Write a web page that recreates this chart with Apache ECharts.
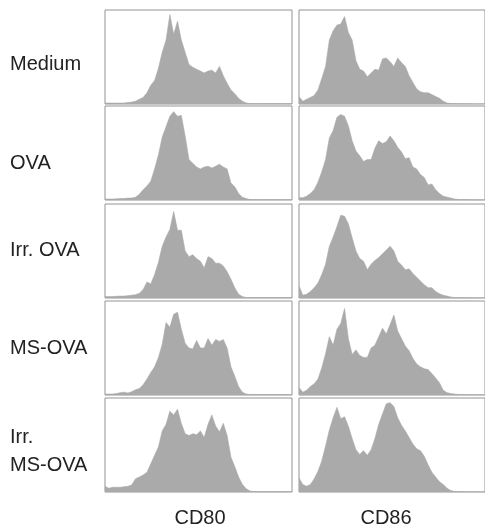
<!DOCTYPE html>
<html>
<head>
<meta charset="utf-8">
<script src="https://cdn.jsdelivr.net/npm/echarts@6/dist/echarts.min.js"></script>
<style>html,body{margin:0;padding:0;background:#fff;}#c{width:485px;height:528px;}</style>
</head>
<body>
<div id="c"></div>
<script>
var rowLabels = [["Medium"], ["OVA"], ["Irr. OVA"], ["MS-OVA"], ["Irr.", "MS-OVA"]];
var colLabels = ["CD80", "CD86"];

var mediumCD80 = [1,1,1,1,1,1,1.5,2,3,5,7,12,20,25,38,55,68,95,74,88,68,55,42,39,37,35,33,35,36,33,40,30,22,15,11,6,3,1,0.5,0.5,0.5,0.5,0.5,0.5,0.5,0.5,0.5,0.5,0.5,0.5];
var mediumCD86 = [8,3,5,7,9,15,27,40,68,78,84,85,93,76,68,46,37,35,29,33,37,36,48,49,45,40,49,44,40,30,23,16,13,12,12,10,8,6,3,1,0.5,0.5,0.3,0.3,0.2,0.2,0.1,0.1,0.1,0.1];
var ovaCD80 = [1,1,1,1.2,1.5,1.5,2,2,3,6,11,15,20,33,48,67,78,89,94,89,90,68,43,39,35,33,35,36,34,36,38,35,33,18,14,7,3,1.5,0.5,0.5,0.5,0.5,0.5,0.5,0.5,0.5,0.5,0.5,0.5,0.5];
var ovaCD86 = [2.5,2.5,4,7,11,19,30,43,66,74,88,91,89,79,63,52,47,41,43,43,55,63,60,62,68,63,56,51,44,45,35,33,27,24,16,17,11,7,4,3,2,1,0.5,0.5,0.4,0.3,0.3,0.2,0.2,0.2];
var irrOvaCD80 = [1.5,1.5,1.5,1.8,2,2,2.5,3,3.5,5,9,17,15,25,38,55,65,73,92,72,72,50,44,46,42,39,32,44,42,37,37,34,28,20,11,4,1.5,0.5,0.5,0.5,0.5,0.5,0.5,0.5,0.5,0.5,0.5,0.5,0.5,0.5];
var irrOvaCD86 = [13,3,4,7,11,16,25,36,55,65,76,88,87,79,64,50,42,39,30,36,40,43,47,51,55,50,39,35,30,31,26,22,18,14,11,11,7,4.5,3,2,1,0.5,0.5,0.4,0.3,0.3,0.2,0.2,0.2,0.2];
var msOvaCD80 = [1,1,1,1.5,2.5,3,2,3.5,5.5,7,11,17,24,30,40,54,77,72,86,88,70,55,50,49,58,50,50,60,53,59,57,59,50,30,20,9,3,1,0.5,0.5,0.5,0.5,0.5,0.5,0.5,0.5,0.5,0.5,0.5,0.5];
var msOvaCD86 = [8,3,5,9,12,17,29,44,62,53,70,76,92,60,43,48,42,40,40,50,53,62,71,65,75,85,68,60,52,47,39,33,30,28,27,23,18,13,5,2.5,1.5,1,0.5,0.5,0.4,0.3,0.3,0.2,0.2,0.2];
var irrMsOvaCD80 = [6,4,5,5,5,5.5,6,7.5,14,16,18,21,30,39,48,65,72,86,82,88,73,62,60,62,61,65,58,72,82,70,64,73,60,37,27,16,8,3.5,1,0.5,0.5,0.5,0.5,0.5,0.5,0.5,0.5,0.5,0.5,0.5];
var irrMsOvaCD86 = [15,8,6,8,14,22,33,49,66,79,90,78,80,70,57,45,40,44,39,45,57,72,83,94,95,91,79,71,65,58,51,46,44,38,29,21,16,11,8,4,1.5,0.5,0.5,0.4,0.3,0.3,0.2,0.2,0.2,0.2];

var panels = [
  [mediumCD80, mediumCD86],
  [ovaCD80, ovaCD86],
  [irrOvaCD80, irrOvaCD86],
  [msOvaCD80, msOvaCD86],
  [irrMsOvaCD80, irrMsOvaCD86]
];

var rowTops = [10, 106, 204, 301, 398];
var rowH = 94;
var colLefts = [105, 299];
var colW = [187, 190];
var labelY = [[64], [163], [250], [348], [437, 465]];

var grids = [], xAxes = [], yAxes = [], series = [], graphics = [];
var cats = panels[0][0].map(function (_, i) { return i; });
var idx = 0;
var FONT = '20px "Liberation Sans", Arial, sans-serif';
for (var r = 0; r < 5; r++) {
  for (var c = 0; c < 2; c++) {
    grids.push({left: colLefts[c], top: rowTops[r], width: colW[c], height: rowH,
      show: true, borderColor: '#939393', borderWidth: 1, backgroundColor: '#fff'});
    xAxes.push({type: 'category', gridIndex: idx, data: cats, boundaryGap: false, show: false});
    yAxes.push({type: 'value', gridIndex: idx, min: 0, max: 100, show: false});
    series.push({type: 'line', xAxisIndex: idx, yAxisIndex: idx, data: panels[r][c],
      showSymbol: false, symbol: 'none', lineStyle: {width: 0.6, color: '#aaaaaa'},
      areaStyle: {color: '#aaaaaa', opacity: 1}, silent: true, animation: false});
    idx++;
  }
  rowLabels[r].forEach(function (t, k) {
    graphics.push({type: 'text', x: 10, y: labelY[r][k],
      style: {text: t, font: FONT, fill: '#222', align: 'left', verticalAlign: 'middle'}});
  });
}
var colCenters = [200, 386];
colLabels.forEach(function (t, c) {
  graphics.push({type: 'text', x: colCenters[c], y: 518,
    style: {text: t, font: FONT, fill: '#222', align: 'center', verticalAlign: 'middle'}});
});

var chart = echarts.init(document.getElementById('c'), null, {renderer: 'canvas'});
chart.setOption({
  animation: false,
  grid: grids, xAxis: xAxes, yAxis: yAxes, series: series, graphic: graphics
});
</script>
</body>
</html>
